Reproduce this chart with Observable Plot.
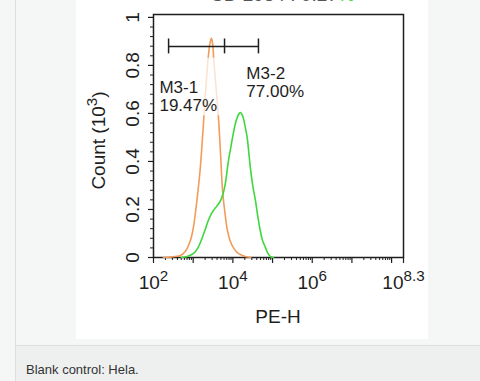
<!DOCTYPE html>
<html><head><meta charset="utf-8">
<script src="https://cdn.jsdelivr.net/npm/d3@7"></script>
<script src="https://cdn.jsdelivr.net/npm/@observablehq/plot@0.6"></script>
<style>
html,body{margin:0;padding:0;}
body{width:480px;height:381px;overflow:hidden;background:#f5f6f6;position:relative;font-family:"Liberation Sans",Arial,Helvetica,sans-serif;}
#panel{position:absolute;left:15px;top:0;width:465px;height:345px;border-left:1px solid #dcdfdf;box-sizing:border-box;}
#chart{position:absolute;left:76px;top:0;width:352px;height:339px;background:#fff;overflow:hidden;}
#topnote{position:absolute;left:134px;top:-15px;font-size:19px;line-height:19px;color:#555;white-space:nowrap;}
#topnote .g{color:#3ed83e;}
#caption{position:absolute;left:15px;top:345px;width:465px;height:36px;border-top:1px solid #dcdfdf;border-left:1px solid #dcdfdf;background:#eef0f0;box-sizing:border-box;}
#caption span{position:absolute;left:10px;top:16px;font-size:13px;line-height:15px;color:#333;white-space:nowrap;}
</style>
</head><body>
<div id="panel"></div>
<div id="chart"><div id="topnote">CD 2984 : 0.27<span class="g">%</span></div></div>
<div id="caption"><span>Blank control: Hela.</span></div>
<script>
// ---- data (PE-H given as log10 exponent, Count in 10^3) ----
const orangeExp   = [2.25, 2.45, 2.60, 2.68, 2.80, 2.93, 3.00, 3.06, 3.11, 3.18, 3.26, 3.32, 3.38, 3.42, 3.46, 3.49, 3.52, 3.58, 3.64, 3.69, 3.74, 3.79, 3.86, 3.93, 4.01, 4.10, 4.24, 4.34, 4.45];
const orangeCount = [0, 0.002, 0.005, 0.008, 0.025, 0.071, 0.12, 0.19, 0.26, 0.375, 0.56, 0.71, 0.835, 0.89, 0.914, 0.89, 0.82, 0.70, 0.575, 0.43, 0.28, 0.20, 0.115, 0.07, 0.042, 0.022, 0.008, 0.003, 0];
const greenExp    = [2.70, 2.85, 3.01, 3.12, 3.23, 3.31, 3.38, 3.45, 3.51, 3.60, 3.69, 3.76, 3.81, 3.89, 3.95, 4.01, 4.06, 4.11, 4.16, 4.19, 4.23, 4.26, 4.31, 4.36, 4.40, 4.44, 4.50, 4.57, 4.63, 4.69, 4.75, 4.82, 4.88, 4.94, 5.02];
const greenCount  = [0, 0.004, 0.017, 0.04, 0.083, 0.12, 0.154, 0.18, 0.196, 0.215, 0.237, 0.27, 0.308, 0.404, 0.46, 0.516, 0.555, 0.583, 0.600, 0.604, 0.595, 0.583, 0.545, 0.50, 0.44, 0.375, 0.30, 0.237, 0.17, 0.112, 0.07, 0.042, 0.018, 0.005, 0];

const yTickValues      = [0, 0.2, 0.4, 0.6, 0.8, 1];
const yTickLabels      = ["0", "0.2", "0.4", "0.6", "0.8", "1"];
const yMinorTickValues = [0.04, 0.08, 0.12, 0.16, 0.24, 0.28, 0.32, 0.36, 0.44, 0.48, 0.52, 0.56, 0.64, 0.68, 0.72, 0.76, 0.84, 0.88, 0.92, 0.96];
const xDomainExp       = [2, 8.3];
const xDecadeExps      = [2, 3, 4, 5, 6, 7, 8, 8.3];
const xMinorDecades    = [2, 3, 4, 5, 6, 7];
const xMinorMultipliers= [2, 3, 4, 5, 6, 7, 8, 9];
const xLabelExps       = ["2", "4", "6", "8.3"];

const gateBoundsExp = [2.38, 3.79, 4.645];
const gateLevel     = 0.879;
const gateNames     = ["M3-1", "M3-2"];
const gatePercents  = ["19.47%", "77.00%"];
const gateLabelExp  = [2.15, 4.34];
const gateLabelTop  = [0.737, 0.7955];
const labelBoxExp   = [2.10, 3.71];
const labelBoxCount = [0.59, 0.83];

// ---- tables ----
const orange = orangeExp.map((e, i) => ({pe: 10 ** e, count: orangeCount[i]}));
const green  = greenExp.map((e, i) => ({pe: 10 ** e, count: greenCount[i]}));
const xMinor = [];
for (const d of xMinorDecades) for (const m of xMinorMultipliers) xMinor.push(m * 10 ** d);
const xLabels = xLabelExps.map(e => ({x: 10 ** (+e) * 0.99999, text: "10^" + e}));
const gateTicks = gateBoundsExp.map(e => 10 ** e);
const gateLabels = gateNames.map((n, i) => ({x: 10 ** gateLabelExp[i], y: gateLabelTop[i], text: n + "\n" + gatePercents[i]}));
const labelBox = [{x1: 10 ** labelBoxExp[0], x2: 10 ** labelBoxExp[1], y1: labelBoxCount[0], y2: labelBoxCount[1]}];

const W = 352, H = 339, ML = 77, MR = 25, MT = 14, MB = 82;
const ink = "#1e1e1e";

const svg = Plot.plot({
  width: W, height: H,
  marginLeft: ML, marginRight: MR, marginTop: MT, marginBottom: MB,
  style: {fontFamily: "'Liberation Sans', Arial, Helvetica, sans-serif", fontSize: "19px", color: ink, background: "white", overflow: "visible"},
  x: {type: "log", domain: xDomainExp.map(e => 10 ** e), label: null},
  y: {domain: [0, 1.012], label: null},
  marks: [
    Plot.frame({stroke: ink, strokeWidth: 1.5}),
    Plot.axisY(yMinorTickValues, {tickSize: 3, text: null, strokeWidth: 1, label: null}),
    Plot.axisY(yTickValues, {tickSize: 5, tickRotate: -90, tickPadding: 9.5, strokeWidth: 1.2, label: null, fontSize: 19,
      tickFormat: d => yTickLabels[yTickValues.indexOf(d)]}),
    Plot.axisX(xMinor, {tickSize: 3, text: null, strokeWidth: 1, label: null}),
    Plot.axisX(xDecadeExps.map(e => 10 ** e * 0.99999), {tickSize: 6, text: null, strokeWidth: 1.2, label: null}),
    Plot.text(xLabels, {x: "x", text: "text", frameAnchor: "bottom", dy: 18, lineAnchor: "top", fontSize: 19, fill: ink, className: "xlab"}),
    Plot.line(orange, {x: "pe", y: "count", stroke: "#f39c5a", strokeWidth: 1.6, curve: "catmull-rom"}),
    Plot.line(green, {x: "pe", y: "count", stroke: "#3ed83e", strokeWidth: 1.6, curve: "catmull-rom"}),
    Plot.rect(labelBox, {x1: "x1", x2: "x2", y1: "y1", y2: "y2", fill: "white", fillOpacity: 0.72}),
    Plot.ruleY([gateLevel], {x1: gateTicks[0], x2: gateTicks[2], stroke: ink, strokeWidth: 1.5}),
    Plot.ruleX(gateTicks, {y1: gateLevel - 0.031, y2: gateLevel + 0.031, stroke: ink, strokeWidth: 1.5}),
    Plot.text(gateLabels, {x: "x", y: "y", text: "text", textAnchor: "start", lineAnchor: "top", lineHeight: 1.06, fontSize: 17, fill: ink})
  ]
});

const S = d3.select(svg);
// superscripts on x tick labels
S.selectAll("g.xlab text").each(function () {
  const t = this.textContent;
  const [base, exp] = t.split("^");
  const sel = d3.select(this);
  sel.text(null);
  sel.append("tspan").text(base);
  sel.append("tspan").attr("dy", "-0.55em").attr("font-size", "0.8em").text(exp);
});

// y axis title with superscript
const yl = S.append("text")
  .attr("transform", `translate(29,${(MT + H - MB) / 2 + 5}) rotate(-90)`)
  .attr("text-anchor", "middle").attr("fill", ink).attr("font-size", 19);
yl.append("tspan").text("Count (10");
yl.append("tspan").attr("dy", "-0.5em").attr("font-size", "0.8em").text("3");
yl.append("tspan").attr("dy", "0.4em").text(")");
// x axis title
S.append("text")
  .attr("x", ML + (W - ML - MR) / 2).attr("y", 323)
  .attr("text-anchor", "middle").attr("fill", ink).attr("font-size", 19)
  .text("PE-H");

document.getElementById("chart").appendChild(svg);
</script>
</body></html>
